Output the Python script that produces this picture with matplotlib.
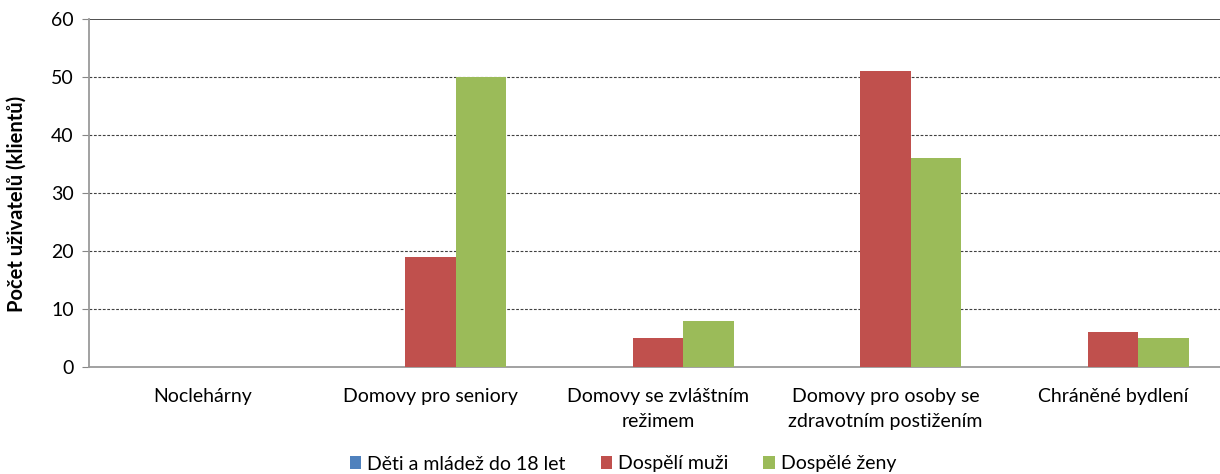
import matplotlib
matplotlib.use("Agg")
import matplotlib.pyplot as plt
import numpy as np

categories = ["Noclehárny", "Domovy pro seniory", "Domovy se zvláštním\nrežimem",
              "Domovy pro osoby se\nzdravotním postižením", "Chráněné bydlení"]
series_names = ["Děti a mládež do 18 let", "Dospělí muži", "Dospělé ženy"]
deti = [0, 0, 0, 0, 0]
muzi = [0, 19, 5, 51, 6]
zeny = [0, 50, 8, 36, 5]
colors = ["#4F81BD", "#C0504D", "#9BBB59"]
yticks = [0, 10, 20, 30, 40, 50, 60]

plt.rcParams['font.family'] = ['Lato', 'DejaVu Sans']

fig = plt.figure(figsize=(12.2, 4.74), dpi=100)
ax = fig.add_axes([89/1220, 1 - 367/474, (1227 - 89)/1220, (367 - 19)/474])

x = np.arange(len(categories))
w = 1/4.5
for i, (vals, name, c) in enumerate(zip([deti, muzi, zeny], series_names, colors)):
    ax.bar(x + (i - 1) * w, vals, width=w, color=c, label=name, zorder=3)

ax.set_xlim(-0.5, len(categories) - 0.5)
ax.set_ylim(0, 60)
ax.set_yticks(yticks)
ax.set_xticks(x)
ax.set_xticklabels(categories, fontsize=14, linespacing=1.6)
ax.tick_params(axis='y', labelsize=14, length=5, color='#868686', pad=6)
ax.tick_params(axis='x', length=0, pad=15)
for t in yticks[1:-1]:
    ax.axhline(t, color='#404040', lw=0.8, ls=(0, (2.5, 1.5)), zorder=1)
ax.axhline(60, color='#404040', lw=1.3, zorder=1)

for s in ['top', 'right']:
    ax.spines[s].set_visible(False)
for s in ['left', 'bottom']:
    ax.spines[s].set_color('#9a9a9a')
    ax.spines[s].set_linewidth(1.3)

ax.set_ylabel("Počet uživatelů (klientů)", fontsize=14.5, fontweight='bold')
ax.yaxis.set_label_coords(-62/1138, 0.47)

fig.legend(loc='center', bbox_to_anchor=(623/1220, 1 - 464/474), ncol=3, frameon=False,
           fontsize=14, handlelength=0.6, handleheight=0.6, handletextpad=0.3,
           columnspacing=1.8)

fig.savefig("out.png", dpi=100)
